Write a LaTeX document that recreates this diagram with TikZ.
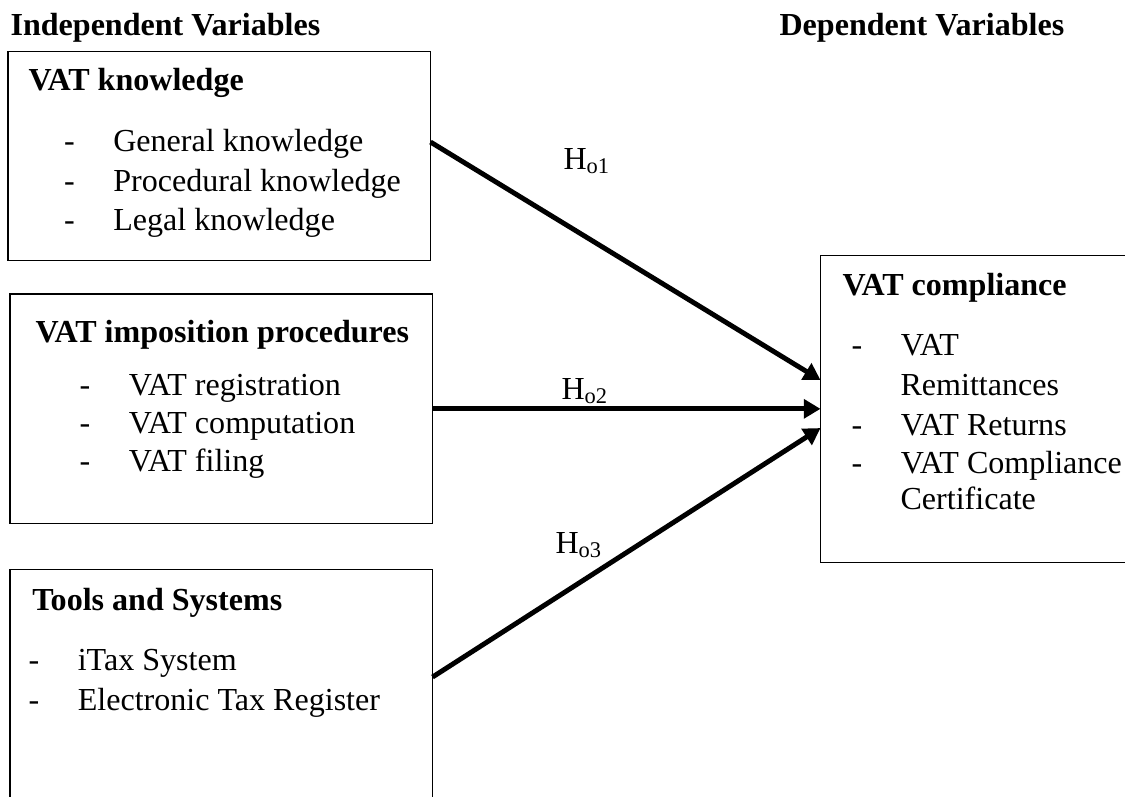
\documentclass[tikz,border=0pt]{standalone}
\usepackage{fontspec}
\setmainfont{Liberation Serif}
\usepackage{tikz}
\usetikzlibrary{arrows.meta,positioning,calc}
\newcommand{\varfont}{\fontsize{11.4}{13.9}\selectfont}
\newcommand{\vitem}[1]{\makebox[17.5pt][l]{-}#1}
\tikzset{
  varbox/.style={draw=black, line width=0.5pt, inner sep=0pt, outer sep=0pt, anchor=north west},
  varhead/.style={font=\varfont\bfseries, anchor=base west, inner sep=0pt},
  vartitle/.style={font=\varfont\bfseries, anchor=base west, inner sep=0pt},
  varitem/.style={font=\varfont, anchor=base west, inner sep=0pt},
  hypedge/.style={-{Triangle[length=5.9pt,width=6.6pt]}, line width=1.75pt},
  hyplabel/.style={font=\varfont, anchor=base west, inner sep=0pt}
}
\begin{document}
\begin{tikzpicture}[x=0.0125cm,y=-0.0125cm]
  % page of 1125 x 796 px, boxes run past the lower and right edges
  \clip (0,0) rectangle (1125,796);
  \node[varhead] (indep) at (10,35) {Independent Variables};
  \node[varhead] (dep) at (779,35) {Dependent Variables};
  % boxes
  \node[varbox,minimum width=5.28cm,minimum height=2.61cm] (know) at (8,51.5) {};
  \node[varbox,minimum width=5.28cm,minimum height=2.87cm] (impo) at (10,294) {};
  \node[varbox,minimum width=5.28cm,minimum height=3.5cm] (tools) at (10,569.5) {};
  \node[varbox,minimum width=4.2cm,minimum height=3.84cm] (comp) at (820.5,255.5) {};
  % VAT knowledge
  \node[vartitle] (knowt) at (28,90) {VAT knowledge};
  \node[varitem] (know1) at (63.5,151.7) {\vitem{General knowledge}};
  \node[varitem] (know2) at (63.5,191.2) {\vitem{Procedural knowledge}};
  \node[varitem] (know3) at (63.5,230) {\vitem{Legal knowledge}};
  % VAT imposition procedures
  \node[vartitle] (impot) at (35,342.7) {VAT imposition procedures};
  \node[varitem] (impo1) at (79,395) {\vitem{VAT registration}};
  \node[varitem] (impo2) at (79,433.3) {\vitem{VAT computation}};
  \node[varitem] (impo3) at (79,471.7) {\vitem{VAT filing}};
  % Tools and Systems
  \node[vartitle] (toolst) at (31.7,610) {Tools and Systems};
  \node[varitem] (tools1) at (28,670) {\vitem{iTax System}};
  \node[varitem] (tools2) at (28,710.7) {\vitem{Electronic Tax Register}};
  % VAT compliance
  \node[vartitle] (compt) at (842,295) {VAT compliance};
  \node[varitem] (comp1) at (851,355) {\vitem{VAT}};
  \node[varitem] (comp1b) at (900,395.7) {Remittances};
  \node[varitem] (comp2) at (851,435) {\vitem{VAT Returns}};
  \node[varitem] (comp3) at (851,473.3) {\vitem{VAT Compliance}};
  \node[varitem] (comp3b) at (900,509.3) {Certificate};
  % hypotheses
  \draw[hypedge] ($(know.east)+(0,-13.9)$) -- ($(comp.west)+(0,-29.1)$);
  \draw[hypedge] (impo.east) -- (impo.east -| comp.west);
  \draw[hypedge] ($(tools.east)+(0,-32.5)$) -- ($(comp.west)+(0,18.9)$);
  \node[hyplabel] (h1) at (563,169) {H\textsubscript{o1}};
  \node[hyplabel] (h2) at (561,399) {H\textsubscript{o2}};
  \node[hyplabel] (h3) at (555,553) {H\textsubscript{o3}};
\end{tikzpicture}
\end{document}
